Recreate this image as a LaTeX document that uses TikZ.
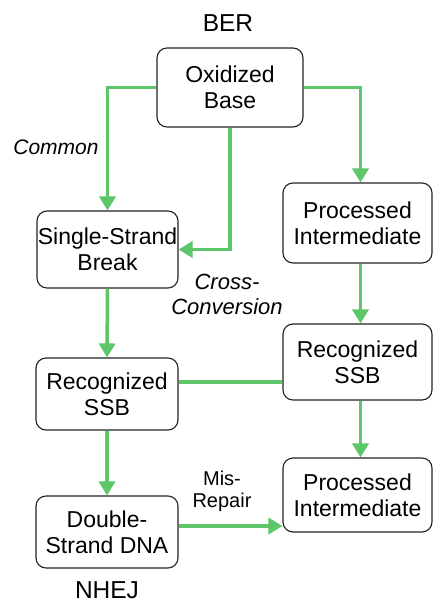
\documentclass[tikz,border=0pt]{standalone}
\usepackage{fontspec}
\setmainfont{Liberation Sans}
\usetikzlibrary{arrows.meta}
\definecolor{flowgreen}{HTML}{5CC668}
\definecolor{boxline}{HTML}{222222}
\begin{document}
\begin{tikzpicture}[x=1pt,y=-1pt,
  stage/.style={draw=boxline,line width=1.1pt,rounded corners=10pt,fill=white,
    align=center,inner sep=0pt,font=\fontsize{23}{26}\selectfont},
  flow/.style={draw=flowgreen,line width=3.5pt,-{Triangle[width=16pt,length=14pt]}},
  link/.style={draw=flowgreen,line width=3.5pt},
  title/.style={font=\fontsize{24.5}{28}\selectfont},
  note/.style={font=\fontsize{21}{24}\selectfont\itshape,align=center},
  plain/.style={font=\fontsize{20}{22}\selectfont,align=center}]
\useasboundingbox (0,0) rectangle (433,607);
\fill[white] (0,0) rectangle (433,607);

\node[title] (ber) at (228,23) {BER};
\node[title] (nhej) at (107,590) {NHEJ};

\node[stage,minimum width=146pt,minimum height=79pt] (ox) at (230,87.5) {Oxidized\\Base};
\node[stage,minimum width=141pt,minimum height=77pt] (ssb) at (107.5,249.5) {Single-Strand\\Break};
\node[stage,minimum width=149pt,minimum height=80pt] (pi1) at (357.5,223) {Processed\\Intermediate};
\node[stage,minimum width=142pt,minimum height=72pt] (rl) at (107,394) {Recognized\\SSB};
\node[stage,minimum width=149pt,minimum height=76pt] (rr) at (357.5,362) {Recognized\\SSB};
\node[stage,minimum width=149pt,minimum height=74pt] (pi2) at (357.5,495) {Processed\\Intermediate};
\node[stage,minimum width=142pt,minimum height=72pt] (dsd) at (107,532) {Double-\\Strand DNA};

\coordinate (hy) at (0,382);
\coordinate (my) at (0,526);

\draw[flow] (ox.west) -| (ssb.north);
\draw[flow] (ox.south) |- (ssb.east);
\draw[flow] (ox.east) -| ([xshift=3pt]pi1.north);
\draw[flow] ([xshift=3pt]pi1.south) -- ([xshift=3pt]rr.north);
\draw[flow] (ssb.south) -- (rl.north);
\draw[link] (rl.east |- hy) -- (rr.west |- hy);
\draw[flow] ([xshift=3pt]rr.south) -- ([xshift=3pt]pi2.north);
\draw[flow] (rl.south) -- (dsd.north);
\draw[flow] (dsd.east |- my) -- (pi2.west |- my);

\node[note] (common) at (56,147) {Common};
\node[note,font=\fontsize{22}{25}\selectfont\itshape] (cross) at (227,294) {Cross-\\Conversion};
\node[plain] (mis) at (222,491) {Mis-\\Repair};
\end{tikzpicture}
\end{document}
